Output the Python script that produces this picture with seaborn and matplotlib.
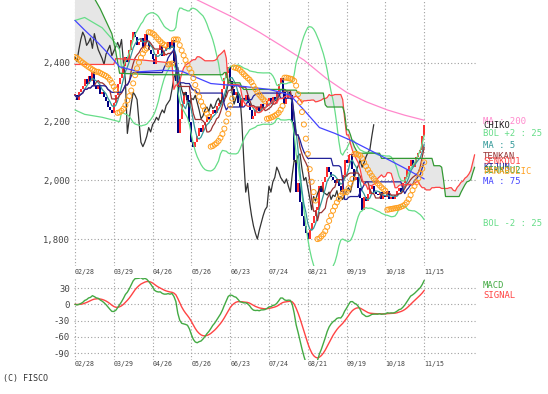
import numpy as np
import pandas as pd
import matplotlib
matplotlib.use("Agg")
import matplotlib.pyplot as plt
import seaborn as sns

# daily closes (02/28 .. 11/15)
closes = [
    2290, 2275, 2300, 2310, 2320, 2345, 2330, 2355, 2340, 2370,
    2320, 2310, 2325, 2295, 2300, 2285, 2270, 2250, 2240, 2230,
    2265, 2290, 2330, 2350, 2365, 2390, 2420, 2405, 2445, 2480,
    2505, 2490, 2460, 2470, 2485, 2450, 2500, 2470, 2445, 2430,
    2415, 2395, 2430, 2445, 2460, 2425, 2440, 2455, 2470, 2450,
    2480, 2400, 2340, 2160, 2210, 2260, 2300, 2290, 2275, 2200,
    2130, 2115, 2130, 2150, 2180, 2165, 2190, 2200, 2215, 2205,
    2225, 2240, 2230, 2255, 2265, 2275, 2310, 2350, 2365, 2385,
    2340, 2310, 2290, 2300, 2265, 2250, 2280, 2275, 2290, 2265,
    2240, 2210, 2220, 2240, 2250, 2235, 2260, 2245, 2250, 2270,
    2280, 2260, 2285, 2270, 2300, 2330, 2350, 2300, 2260, 2280,
    2300, 2290, 2200, 2070, 1960, 1990, 1925, 1880, 1845, 1820,
    1800, 1830, 1855, 1880, 1900, 1910, 1980, 1960, 1995, 2010,
    2045, 2030, 2010, 2000, 1990, 2005, 1980, 1960, 2020, 2070,
    2060, 2085, 2090, 2040, 2000, 2010, 1975, 1940, 1900, 1945,
    1930, 1955, 1970, 1980, 1960, 1955, 1950, 1960, 1935, 1950,
    1945, 1965, 1935, 1945, 1935, 1950, 1965, 1975, 1960, 1990,
    2010, 2035, 2050, 2070, 2045, 2060, 2080, 2095, 2105, 2150,
    2190,
]
date_labels = ["02/28", "03/29", "04/26", "05/26", "06/23",
               "07/24", "08/21", "09/19", "10/18", "11/15"]
price_ticks = [1800, 2000, 2200, 2400]
macd_ticks = [30, 0, -30, -60, -90]

# long averages (history before the window)
ma200_days = [58, 63, 81, 95, 106, 118, 130, 140, 150, 161, 170, 180]
ma200_vals = [2640, 2615, 2557, 2505, 2460, 2410, 2345, 2300, 2268, 2240, 2222, 2205]
ma75_days = [0, 5, 12, 17, 23, 33, 45, 55, 61, 70, 87, 100, 106, 111, 118, 126, 134, 142, 155, 169, 180]
ma75_vals = [2545, 2512, 2468, 2433, 2387, 2370, 2375, 2372, 2355, 2330, 2320, 2310,
             2300, 2290, 2240, 2180, 2160, 2137, 2093, 2045, 2005]

# early cloud / bands that depend on data before 02/28
senkou1_early_days = [0, 20, 21, 35, 50]
senkou1_early_vals = [2395, 2395, 2415, 2410, 2400]
senkou2_early_days = [0, 10, 13, 19, 21, 23, 40, 76]
senkou2_early_vals = [2630, 2620, 2585, 2500, 2440, 2365, 2360, 2360]
bol_early_days = [0, 5, 14, 20, 23]
bol_up_early = [2545, 2555, 2520, 2475, 2445]
bol_lo_early = [2240, 2225, 2215, 2205, 2200]
sar_start = 2420

legend_names = ["MA : 200", "CHIKO", "BOL +2 : 25", "MA : 5", "TENKAN", "SENKOU1",
                "KIJUN", "SENKOU2", "PARABOLIC", "MA : 75", "BOL -2 : 25"]
legend_colors = ["#ff88cc", "#222222", "#66dd88", "#339999", "#993333", "#ff4444",
                 "#222299", "#339933", "#ffa020", "#4444ff", "#66dd88"]
legend_ypx = [121, 126, 133, 145, 157, 162, 168, 170, 172, 181, 223]


def psar(high, low, start, af0=0.02, afmax=0.2):
    n = len(high)
    sar = np.empty(n)
    sar[0] = start
    rising, ep, af = False, low[0], af0
    for i in range(1, n):
        s = sar[i - 1] + af * (ep - sar[i - 1])
        if rising:
            s = min(s, low[i - 1], low[max(i - 2, 0)])
            if low[i] < s:
                rising, s, ep, af = False, ep, low[i], af0
            elif high[i] > ep:
                ep, af = high[i], min(af + af0, afmax)
        else:
            s = max(s, high[i - 1], high[max(i - 2, 0)])
            if high[i] > s:
                rising, s, ep, af = True, ep, high[i], af0
            elif low[i] < ep:
                ep, af = low[i], min(af + af0, afmax)
        sar[i] = s
    return sar


close = pd.Series(closes, dtype=float)
n = len(close)
days = np.arange(n)
opn = close.shift(1).fillna(close.iloc[0])
high = np.maximum(opn, close)
low = np.minimum(opn, close)

ma5 = close.rolling(5, min_periods=1).mean()
mid = close.rolling(25).mean()
sd = close.rolling(25).std(ddof=0)
bol_up = mid + 2 * sd
bol_lo = mid - 2 * sd
tenkan = (high.rolling(9, min_periods=1).max() + low.rolling(9, min_periods=1).min()) / 2
kijun = (high.rolling(26, min_periods=1).max() + low.rolling(26, min_periods=1).min()) / 2
s1 = ((high.rolling(9).max() + low.rolling(9).min()) / 2 +
      (high.rolling(26).max() + low.rolling(26).min()) / 2) / 2
s2 = (high.rolling(52).max() + low.rolling(52).min()) / 2
sar = psar(high.values, low.values, sar_start)

ema12 = close.ewm(span=12, adjust=False).mean()
ema26 = close.ewm(span=26, adjust=False).mean()
macd = ema12 - ema26
signal = macd.ewm(span=9, adjust=False).mean()

ok1 = s1.notna().values
ok2 = s2.notna().values
s1_x = np.concatenate([senkou1_early_days, days[ok1] + 26])
s1_y = np.concatenate([senkou1_early_vals, s1.values[ok1]])
s2_x = np.concatenate([senkou2_early_days, days[ok2] + 26])
s2_y = np.concatenate([senkou2_early_vals, s2.values[ok2]])
okb = bol_up.notna().values
bu_x = np.concatenate([bol_early_days, days[okb]])
bu_y = np.concatenate([bol_up_early, bol_up.values[okb]])
bl_y = np.concatenate([bol_lo_early, bol_lo.values[okb]])

sns.set_theme(style="white")
plt.rcParams["font.family"] = ["DejaVu Sans Mono"]

W, H = 548, 394
fig = plt.figure(figsize=(W / 100, H / 100), dpi=100)
ax = fig.add_axes([74 / W, 1 - 266 / H, 402 / W, 266 / H])
ax2 = fig.add_axes([74 / W, 1 - 360 / H, 402 / W, 82 / H])

grid = dict(color="#a0a0a0", linestyle=(0, (1, 2)), linewidth=0.8)
xt = [20 * k for k in range(len(date_labels))]
for a in (ax, ax2):
    a.set_xlim(-0.5, 206.7)
    for s in a.spines.values():
        s.set_visible(False)
    a.set_xticks(xt)
    a.set_xticklabels(date_labels, ha="left", fontsize=4.8, color="#444444")
    a.tick_params(length=0)
    a.grid(True, **grid)
    a.set_axisbelow(True)

ax.set_ylim(1708.3, 2614.6)
ax.set_yticks(price_ticks)
ax.set_yticklabels([f"{v:,}" for v in price_ticks])
ax.tick_params(axis="y", pad=3, labelsize=6.4, labelcolor="#444444")
ax.tick_params(axis="x", pad=2.5)

# cloud
ax.fill(np.concatenate([s1_x, s2_x[::-1]]), np.concatenate([s1_y, s2_y[::-1]]),
        facecolor="#e6e6e6", edgecolor="none", zorder=1)

# candles
up = (close >= opn).values
body = np.maximum((close - opn).abs().values, 3)
bottom = np.minimum(opn, close).values
ax.bar(days, body, bottom=bottom, width=1.05,
       color=np.where(up, "#ff3030", "#000080"), linewidth=0, zorder=3)

lw = 0.9
sns.lineplot(x=ma200_days, y=ma200_vals, color="#ff88cc", lw=lw, ax=ax, zorder=4)
sns.lineplot(x=days[:n - 26], y=close.values[26:], color="#333333", lw=lw, ax=ax, zorder=4)
sns.lineplot(x=bu_x, y=bu_y, color="#66dd88", lw=lw, ax=ax, zorder=4)
sns.lineplot(x=bu_x, y=bl_y, color="#66dd88", lw=lw, ax=ax, zorder=4)
sns.lineplot(x=days, y=ma5.values, color="#339999", lw=lw, ax=ax, zorder=4)
sns.lineplot(x=days, y=tenkan.values, color="#993333", lw=lw, ax=ax, zorder=4)
sns.lineplot(x=days, y=kijun.values, color="#222299", lw=lw, ax=ax, zorder=4)
sns.lineplot(x=s1_x, y=s1_y, color="#ff4444", lw=lw, ax=ax, zorder=4)
sns.lineplot(x=s2_x, y=s2_y, color="#339933", lw=lw, ax=ax, zorder=4)
sns.lineplot(x=ma75_days, y=ma75_vals, color="#4444ff", lw=lw, ax=ax, zorder=4)
sns.scatterplot(x=days, y=sar, marker="o", s=13, facecolors="none",
                edgecolor="#ffa020", linewidth=0.7, ax=ax, zorder=5)
ax.set_xlabel("")
ax.set_ylabel("")

ax2.set_ylim(-102.8, 48.6)
ax2.set_yticks(macd_ticks)
ax2.set_yticklabels([str(v) for v in macd_ticks])
ax2.tick_params(axis="y", pad=3, labelsize=6.4, labelcolor="#444444")
ax2.tick_params(axis="x", pad=1)
sns.lineplot(x=days, y=signal.values, color="#ff4444", lw=1.0, ax=ax2)
sns.lineplot(x=days, y=macd.values, color="#44aa44", lw=1.0, ax=ax2)
ax2.set_xlabel("")
ax2.set_ylabel("")

for name, col, ypx in zip(legend_names, legend_colors, legend_ypx):
    fig.text(483 / W, 1 - ypx / H, name, color=col, fontsize=6.4, va="center")
fig.text(483 / W, 1 - 285 / H, "MACD", color="#44aa44", fontsize=6.4, va="center")
fig.text(483 / W, 1 - 296 / H, "SIGNAL", color="#ff4444", fontsize=6.4, va="center")
fig.text(3 / W, 1 - 378 / H, "(C) FISCO", color="#333333", fontsize=6.0, va="center")

fig.savefig("out.png", dpi=100)
